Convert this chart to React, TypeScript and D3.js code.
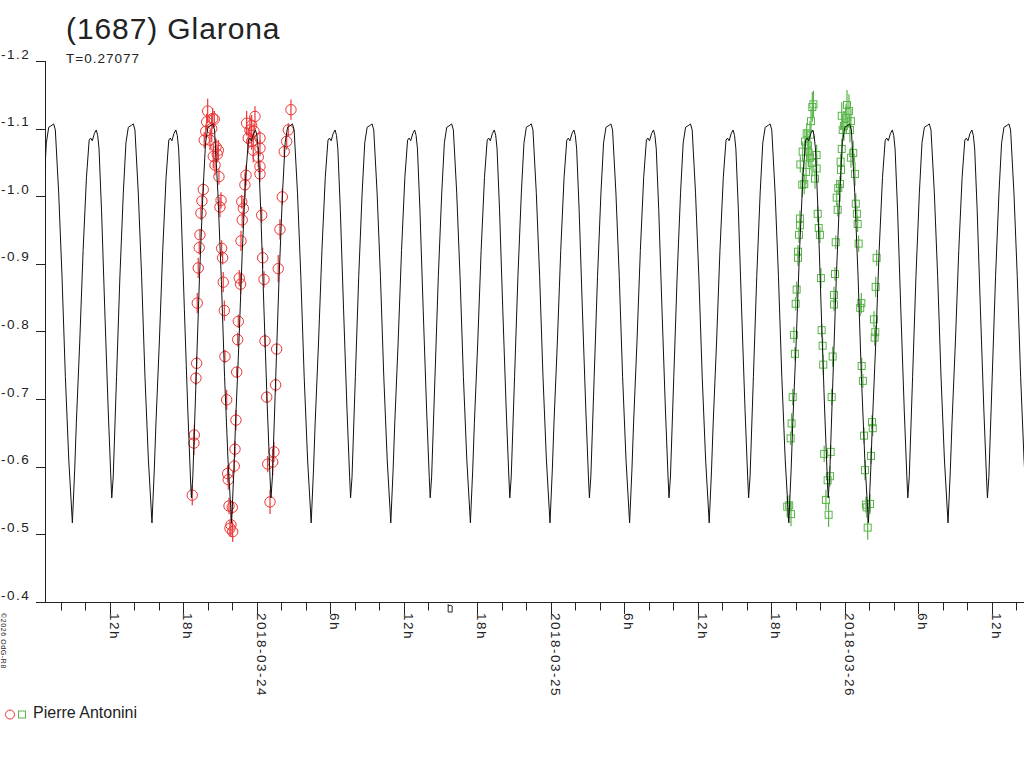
import React from 'react';
import * as d3 from 'd3';

// rotation period (days) and one deep-minimum epoch (hours after 2018-03-24 00:00 UT)
const PERIOD_DAYS = 0.27077;
const EPOCH_HOURS = 4.45;

// one rotation of the fitted light curve
const profilePhase = [0.000, 0.029, 0.050, 0.092, 0.135, 0.177, 0.211, 0.230, 0.250, 0.277, 0.300, 0.318, 0.335,
    0.366, 0.407, 0.450, 0.483, 0.495, 0.513, 0.555, 0.597, 0.640, 0.673, 0.703, 0.744, 0.765, 0.786, 0.828,
    0.870, 0.912, 0.955, 1.000];
const profileMag = [-0.517, -0.595, -0.665, -0.783, -0.920, -1.028, -1.083, -1.086, -1.082, -1.093, -1.098, -1.090, -1.070,
    -0.980, -0.832, -0.684, -0.585, -0.554, -0.585, -0.733, -0.881, -1.005, -1.079, -1.102, -1.105, -1.107, -1.098, -1.005,
    -0.881, -0.733, -0.610, -0.517];

// observations: [hours after 2018-03-24 00:00 UT, magnitude, error]
const redObs: [number, number, number][] = [
    [-4.00, -1.126, 0.018], [-4.08, -1.110, 0.012], [-3.59, -1.115, 0.015], [-3.46, -1.114, 0.012],
    [-4.16, -1.096, 0.010], [-3.67, -1.100, 0.020], [-4.28, -1.083, 0.012], [-3.81, -1.083, 0.015],
    [-3.32, -1.073, 0.012], [-3.13, -1.068, 0.015], [-3.22, -1.062, 0.012], [-3.54, -1.059, 0.018],
    [-3.40, -1.046, 0.015], [-3.08, -1.029, 0.012], [-4.36, -1.010, 0.010], [-4.47, -0.993, 0.008],
    [-4.55, -0.975, 0.010], [-2.91, -0.994, 0.012], [-3.00, -0.984, 0.015], [-4.63, -0.943, 0.008],
    [-4.69, -0.924, 0.010], [-4.77, -0.894, 0.015], [-4.85, -0.842, 0.015], [-2.86, -0.923, 0.012],
    [-2.78, -0.909, 0.010], [-2.73, -0.873, 0.015], [-2.64, -0.831, 0.015], [-0.14, -1.118, 0.015],
    [-0.82, -1.108, 0.018], [-0.41, -1.105, 0.015], [-0.55, -1.098, 0.020], [-0.22, -1.096, 0.012],
    [-0.69, -1.086, 0.015], [-0.41, -1.081, 0.012], [0.27, -1.086, 0.010], [-0.28, -1.068, 0.018],
    [0.27, -1.071, 0.012], [0.13, -1.058, 0.015], [0.27, -1.044, 0.010], [0.27, -1.033, 0.012],
    [-0.87, -1.031, 0.015], [-0.96, -1.017, 0.018], [-1.22, -0.992, 0.010], [-1.09, -0.982, 0.015],
    [-1.18, -0.965, 0.012], [-1.28, -0.934, 0.015], [-1.42, -0.879, 0.012], [-1.31, -0.870, 0.015],
    [-1.50, -0.815, 0.010], [0.41, -0.972, 0.012], [0.49, -0.909, 0.015], [0.60, -0.877, 0.012],
    [2.80, -1.128, 0.015], [2.58, -1.098, 0.010], [2.45, -1.081, 0.012], [2.25, -1.066, 0.008],
    [2.09, -0.999, 0.012], [1.90, -0.951, 0.015], [1.76, -0.893, 0.020], [-4.90, -0.753, 0.010],
    [-4.96, -0.731, 0.010], [-5.09, -0.647, 0.015], [-5.12, -0.635, 0.018], [-5.26, -0.558, 0.015],
    [-2.59, -0.763, 0.010], [-2.45, -0.699, 0.015], [-2.37, -0.590, 0.012], [-2.32, -0.581, 0.015],
    [-2.26, -0.542, 0.012], [-1.99, -0.540, 0.010], [-2.10, -0.514, 0.018], [-1.96, -0.504, 0.015],
    [-2.18, -0.509, 0.012], [-1.55, -0.788, 0.010], [-1.63, -0.740, 0.008], [-1.69, -0.669, 0.015],
    [-1.77, -0.626, 0.012], [-1.83, -0.601, 0.010], [0.68, -0.786, 0.010], [1.63, -0.774, 0.008],
    [1.55, -0.721, 0.010], [0.82, -0.703, 0.008], [1.41, -0.622, 0.015], [1.31, -0.607, 0.020],
    [0.90, -0.604, 0.012], [1.09, -0.548, 0.018],
];

const greenObs: [number, number, number][] = [
    [45.36, -1.132, 0.022], [45.25, -1.111, 0.018], [44.90, -1.093, 0.015], [45.17, -1.091, 0.020],
    [44.76, -1.081, 0.018], [44.57, -1.066, 0.015], [45.03, -1.066, 0.022], [45.17, -1.057, 0.018],
    [45.71, -1.061, 0.015], [44.38, -1.047, 0.012], [45.71, -1.041, 0.020], [45.58, -1.026, 0.015],
    [44.54, -1.017, 0.018], [44.70, -1.018, 0.015], [44.35, -0.967, 0.012], [44.35, -0.957, 0.010],
    [44.27, -0.943, 0.012], [44.19, -0.918, 0.010], [44.19, -0.909, 0.012], [45.80, -0.974, 0.012],
    [45.88, -0.953, 0.015], [45.98, -0.943, 0.012], [46.06, -0.879, 0.015], [44.08, -0.862, 0.012],
    [44.00, -0.841, 0.010], [48.35, -1.126, 0.025], [47.76, -1.119, 0.020], [48.51, -1.111, 0.018],
    [47.94, -1.104, 0.022], [47.84, -1.098, 0.015], [47.76, -1.070, 0.015], [48.70, -1.064, 0.018],
    [48.51, -1.057, 0.015], [47.67, -1.051, 0.012], [47.70, -1.039, 0.015], [48.84, -1.033, 0.018],
    [47.62, -1.018, 0.012], [47.48, -1.012, 0.010], [47.35, -0.998, 0.012], [47.43, -0.980, 0.010],
    [48.91, -0.989, 0.015], [49.00, -0.974, 0.012], [49.06, -0.959, 0.012], [47.27, -0.932, 0.010],
    [49.14, -0.930, 0.012], [47.21, -0.885, 0.010], [47.13, -0.854, 0.012], [47.13, -0.840, 0.010],
    [49.36, -0.842, 0.015], [49.27, -0.835, 0.012], [50.61, -0.909, 0.012], [50.53, -0.866, 0.015],
    [50.39, -0.818, 0.012], [50.50, -0.799, 0.010], [50.45, -0.791, 0.012], [43.86, -0.795, 0.012],
    [43.94, -0.767, 0.010], [43.76, -0.703, 0.012], [43.67, -0.664, 0.015], [43.59, -0.642, 0.010],
    [43.31, -0.541, 0.015], [43.62, -0.530, 0.018], [43.47, -0.543, 0.015], [46.12, -0.802, 0.010],
    [46.20, -0.779, 0.012], [46.25, -0.751, 0.015], [46.33, -0.619, 0.012], [46.47, -0.551, 0.015],
    [46.69, -0.529, 0.018], [47.02, -0.763, 0.015], [46.94, -0.703, 0.012], [46.86, -0.622, 0.010],
    [46.80, -0.586, 0.015], [46.61, -0.580, 0.012], [49.39, -0.749, 0.012], [49.49, -0.727, 0.010],
    [49.58, -0.646, 0.012], [49.66, -0.595, 0.015], [49.74, -0.544, 0.012], [49.88, -0.510, 0.018],
    [50.07, -0.545, 0.015], [50.15, -0.616, 0.012], [50.23, -0.666, 0.010], [50.29, -0.657, 0.012],
    [49.80, -0.540, 0.015], [45.45, -1.136, 0.020], [45.00, -1.075, 0.022], [45.33, -1.049, 0.020],
    [44.85, -1.036, 0.018], [48.19, -1.135, 0.022], [48.11, -1.116, 0.020], [48.43, -1.098, 0.018],
];

const yTicks = [-1.2, -1.1, -1.0, -0.9, -0.8, -0.7, -0.6, -0.5, -0.4];
const titleText = '(1687) Glarona';
const periodText = 'T=0.27077';
const observerName = 'Pierre Antonini';
const creditText = '\u00a92026 OdG-R8';

const RED = '#ee3535';
const GREEN = '#58b548';
const INK = '#222';
const FONT = '"Liberation Sans", Arial, sans-serif';

const base = Date.UTC(2018, 2, 24, 0, 0);
const hoursToDate = (h: number) => new Date(base + h * 3600e3);

export default function App() {
    var margin = {left: 45, right: 1024, top: 61, bottom: 602};

    var x = d3.scaleUtc()
        .domain([hoursToDate(-17.28), hoursToDate(62.64)])
        .range([margin.left, margin.right]);

    var y = d3.scaleLinear()
        .domain([-1.2, -0.4])
        .range([margin.top, margin.bottom]);

    // model curve: the profile repeated once per rotation
    var periodH = PERIOD_DAYS * 24;
    var modelPts: [number, number][] = [];
    var kFirst = Math.floor((-17.28 - EPOCH_HOURS) / periodH) - 1;
    var kLast = Math.ceil((62.64 - EPOCH_HOURS) / periodH) + 1;
    for (let k = kFirst; k <= kLast; k++) {
        profilePhase.forEach((p, i) => {
            if (i === profilePhase.length - 1 && k !== kLast) return;
            modelPts.push([EPOCH_HOURS + (k + p) * periodH, profileMag[i]]);
        });
    }
    var modelLine = d3.line<[number, number]>()
        .x(d => x(hoursToDate(d[0])))
        .y(d => y(d[1]));

    var allTicks = x.ticks(d3.utcHour.every(2) as any);
    var isMajor = (d: Date) => d.getUTCHours() % 6 === 0;
    var tickLabel = (d: Date) => d.getUTCHours() === 0 ? d3.utcFormat('%Y-%m-%d')(d) : d.getUTCHours() + 'h';
    // the little moon-marker sits where the 2018-03-24 16h tick would be
    var moonX = x(hoursToDate(16));

    return (
        <svg width={1024} height={768} style={{position: 'absolute', left: 0, top: 0, display: 'block'}}
             fontFamily={FONT}>
            <rect width={1024} height={768} fill="#fff"/>
            <defs>
                <clipPath id="plot-clip">
                    <rect x={margin.left} y={0} width={margin.right - margin.left} height={margin.bottom}/>
                </clipPath>
            </defs>

            <text x={66} y={39} fontSize={30} letterSpacing={0.9} fill={INK}>{titleText}</text>
            <text x={66} y={63} fontSize={13.5} letterSpacing={1.0} fill={INK}>{periodText}</text>

            {/* y axis */}
            <line x1={margin.left + 0.5} x2={margin.left + 0.5} y1={margin.top} y2={margin.bottom} stroke={INK}/>
            {yTicks.map(t => (
                <g key={t}>
                    <line x1={36} x2={margin.left} y1={Math.round(y(t)) + 0.5} y2={Math.round(y(t)) + 0.5} stroke={INK}/>
                    <text x={1} y={y(t) - 2.5} fontSize={13.5} letterSpacing={1.5} fill={INK}>{t.toFixed(1)}</text>
                </g>
            ))}

            {/* x axis */}
            <line x1={36} x2={1024} y1={margin.bottom + 0.5} y2={margin.bottom + 0.5} stroke={INK}/>
            {allTicks.map(d => {
                var tx = Math.round(x(d)) + 0.5;
                if (Math.abs(x(d) - moonX) < 1) return null;
                var major = isMajor(d);
                return (
                    <g key={d.getTime()}>
                        <line x1={tx} x2={tx} y1={margin.bottom} y2={margin.bottom + (major ? 12 : 8.5)} stroke={INK}/>
                        {major && (
                            <text transform={`translate(${tx - 0.5},${margin.bottom + 11}) rotate(90)`}
                                  fontSize={13.5} letterSpacing={1.5} fill={INK}>{tickLabel(d)}</text>
                        )}
                    </g>
                );
            })}
            <path d={`M${moonX - 4.5},${margin.bottom + 2} v8 h4 v-6 q-2,-1.5 -4,0`} fill="none" stroke={INK}/>

            {/* observations */}
            <g clipPath="url(#plot-clip)">
                {redObs.map((d, i) => {
                    var cx = x(hoursToDate(d[0])), cy = y(d[1]);
                    return (
                        <g key={'r' + i} stroke={RED} fill="none">
                            <line x1={cx} x2={cx} y1={y(d[1] - d[2])} y2={y(d[1] + d[2])} strokeWidth={1.2}/>
                            <circle cx={cx} cy={cy} r={5.2}/>
                        </g>
                    );
                })}
                {greenObs.map((d, i) => {
                    var cx = x(hoursToDate(d[0])), cy = y(d[1]);
                    return (
                        <g key={'g' + i} stroke={GREEN} fill="none">
                            <line x1={cx} x2={cx} y1={y(d[1] - d[2])} y2={y(d[1] + d[2])} strokeWidth={1.2}/>
                            <rect x={cx - 3.5} y={cy - 3.5} width={7} height={7}/>
                        </g>
                    );
                })}
                <path d={modelLine(modelPts) || ''} fill="none" stroke="#111" strokeWidth={1}/>
            </g>

            {/* credit, rotated */}
            <text transform="translate(1,613) rotate(90)" fontSize={7} letterSpacing={0.6} fill={INK}>{creditText}</text>

            {/* legend */}
            <circle cx={10} cy={714.5} r={4.5} fill="none" stroke={RED}/>
            <rect x={18.5} y={711} width={7} height={7} fill="none" stroke={GREEN}/>
            <text x={33} y={718} fontSize={16} fill={INK}>{observerName}</text>
        </svg>
    );
}
